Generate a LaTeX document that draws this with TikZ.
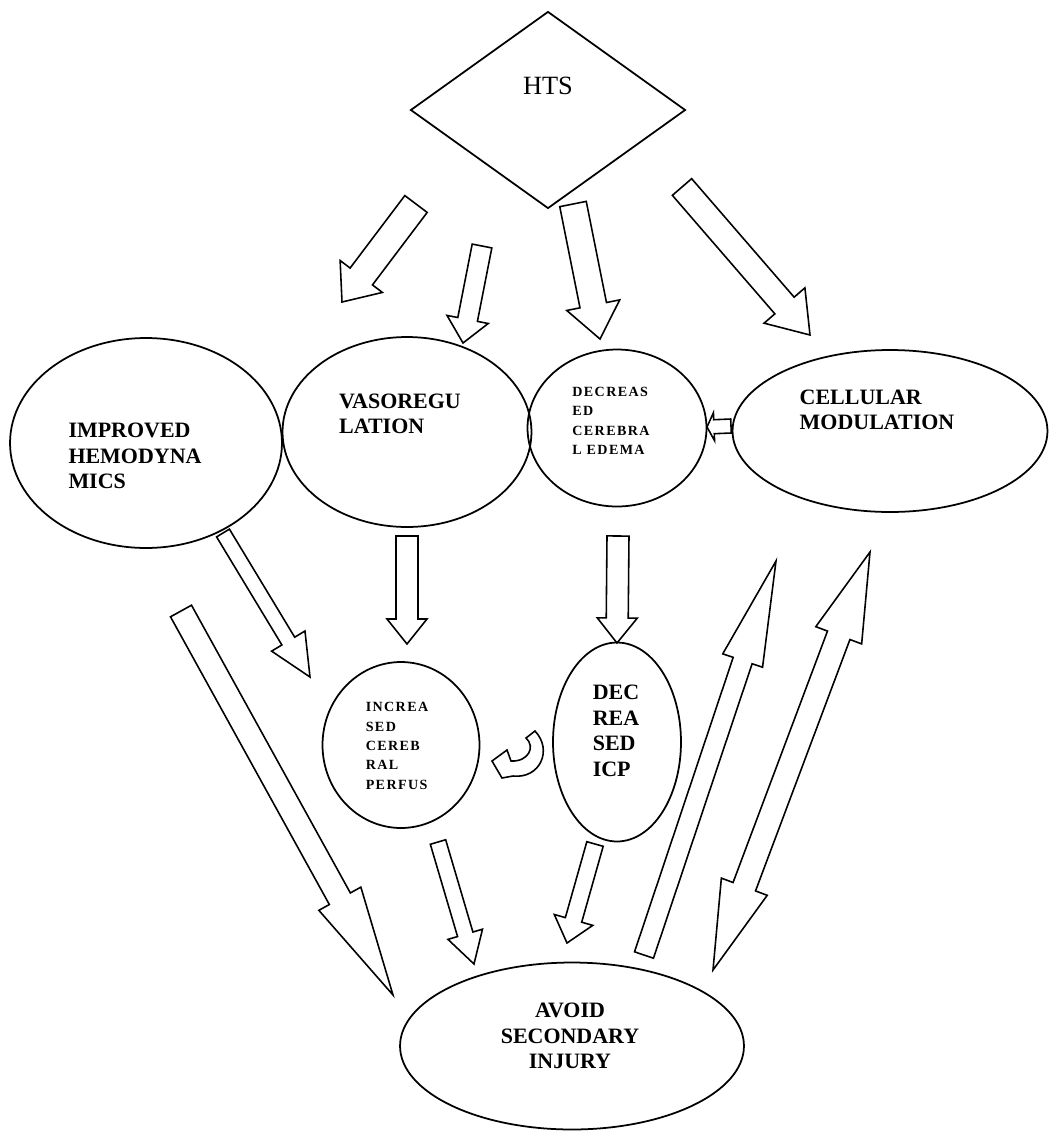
\documentclass[tikz,border=0pt]{standalone}
\usepackage{fontspec}
\setmainfont{Liberation Serif}
\newfontfamily\widefont[LetterSpace=10]{Liberation Serif}
\usetikzlibrary{calc, shapes.geometric}
\tikzset{
  every picture/.style={line width=1pt},
  oval/.style={draw, ellipse, inner sep=0pt},
  lbl/.style={font=\bfseries\fontsize{12.5}{14.5}\selectfont, align=left, inner sep=0pt},
  tinylbl/.style={font=\widefont\bfseries\fontsize{8}{11}\selectfont, align=left, inner sep=0pt},
  fat/.style={draw, line width=0.9pt, line join=miter},
}
% hollow block arrow: tail, tip, half shaft width, half head width, head length
\newcommand{\fatarrow}[5]{%
  \path ($(#2)!#5!(#1)$) coordinate (neck);
  \draw[fat] ($(#1)!#3!90:(#2)$) -- ($(neck)!#3!90:(#2)$) -- ($(neck)!#4!90:(#2)$) -- (#2)
    -- ($(neck)!#4!-90:(#2)$) -- ($(neck)!#3!-90:(#2)$) -- ($(#1)!#3!-90:(#2)$) -- cycle;
}
% same, with a head at both ends
\newcommand{\fatdarrow}[5]{%
  \path ($(#1)!#5!(#2)$) coordinate (neckA) ($(#2)!#5!(#1)$) coordinate (neckB);
  \draw[fat] (#1) -- ($(neckA)!#4!90:(#2)$) -- ($(neckA)!#3!90:(#2)$) -- ($(neckB)!#3!90:(#2)$)
    -- ($(neckB)!#4!90:(#2)$) -- (#2) -- ($(neckB)!#4!-90:(#2)$) -- ($(neckB)!#3!-90:(#2)$)
    -- ($(neckA)!#3!-90:(#2)$) -- ($(neckA)!#4!-90:(#2)$) -- cycle;
}

\begin{document}
\begin{tikzpicture}[x=0.02cm, y=-0.02cm]
  \path[fill=white] (0,0) rectangle (1049,1133);
  % shapes
  \node[draw, diamond, minimum width=5.5cm, minimum height=3.94cm, inner sep=0pt] (hts) at (548,110) {};
  \node[font=\fontsize{15}{17}\selectfont, inner sep=0pt] (htstxt) at (548,86) {HTS};
  \node[oval, minimum width=5.44cm, minimum height=4.2cm] (imp) at (146,443) {};
  \node[oval, minimum width=4.98cm, minimum height=3.8cm] (vaso) at (407,432) {};
  \node[oval, minimum width=3.58cm, minimum height=3.14cm] (edema) at (617,428) {};
  \node[oval, minimum width=6.3cm, minimum height=3.24cm] (cell) at (890,431) {};
  \node[oval, minimum width=3.14cm, minimum height=3.32cm] (perf) at (401,745) {};
  \node[oval, minimum width=2.56cm, minimum height=3.98cm] (icp) at (617,742) {};
  \node[oval, minimum width=6.88cm, minimum height=3.34cm] (avoid) at (572,1046) {};
  % texts
  \node[lbl] (imptxt) at (135,456) {IMPROVED\\HEMODYNA\\MICS};
  \node[lbl] (vasotxt) at (400,414) {VASOREGU\\LATION};
  \node[tinylbl] (edematxt) at (611,421) {DECREAS\\ED\\CEREBRA\\L EDEMA};
  \node[lbl] (celltxt) at (877,410) {CELLULAR\\MODULATION};
  \node[tinylbl] (perftxt) at (397,746) {INCREA\\SED\\CEREB\\RAL\\PERFUS};
  \node[lbl] (icptxt) at (616,731) {DEC\\REA\\SED\\ICP};
  \node[lbl, align=center] (avoidtxt) at (570,1036) {AVOID\\SECONDARY\\INJURY};
  % arrow ends
  \coordinate (hi-s) at (416,204);   \coordinate (hi-e) at (342,302);
  \coordinate (hv-s) at (482,246);   \coordinate (hv-e) at (463,343);
  \coordinate (he-s) at (573,204);   \coordinate (he-e) at (600,339);
  \coordinate (hc-s) at (682,187);   \coordinate (hc-e) at (810,335);
  \coordinate (ce-s) at (731,426);   \coordinate (ce-e) at (707,427);
  \coordinate (vp-s) at (407,536);   \coordinate (vp-e) at (407,644);
  \coordinate (ei-s) at (618,536);   \coordinate (ei-e) at (617,643);
  \coordinate (ip-s) at (223,533);   \coordinate (ip-e) at (310,677);
  \coordinate (ia-s) at (181,611);   \coordinate (ia-e) at (393,995);
  \coordinate (pa-s) at (438,842);   \coordinate (pa-e) at (474,964);
  \coordinate (qa-s) at (595,844);   \coordinate (qa-e) at (567,943);
  \coordinate (ac-s) at (644,955);   \coordinate (ac-e) at (776,561);
  \coordinate (ca-1) at (870,552);   \coordinate (ca-2) at (713,970);
  % block arrows
  \fatarrow{hi-s}{hi-e}{0.28cm}{0.53cm}{0.64cm}
  \fatarrow{hv-s}{hv-e}{0.2cm}{0.42cm}{0.48cm}
  \fatarrow{he-s}{he-e}{0.27cm}{0.54cm}{0.69cm}
  \fatarrow{hc-s}{hc-e}{0.255cm}{0.54cm}{0.78cm}
  \fatarrow{ce-s}{ce-e}{0.14cm}{0.28cm}{0.14cm}
  \fatarrow{vp-s}{vp-e}{0.22cm}{0.4cm}{0.5cm}
  \fatarrow{ei-s}{ei-e}{0.22cm}{0.4cm}{0.5cm}
  \fatarrow{ip-s}{ip-e}{0.15cm}{0.39cm}{0.84cm}
  \fatarrow{ia-s}{ia-e}{0.24cm}{0.48cm}{2.2cm}
  \fatarrow{pa-s}{pa-e}{0.16cm}{0.36cm}{0.62cm}
  \fatarrow{qa-s}{qa-e}{0.17cm}{0.4cm}{0.48cm}
  \fatarrow{ac-s}{ac-e}{0.2cm}{0.42cm}{2.1cm}
  \fatdarrow{ca-1}{ca-2}{0.24cm}{0.49cm}{1.78cm}
  % curled arrow between the two small circles
  \draw[fat] (535,731) -- (526,738) .. controls (536,747) and (528,762) .. (511,761)
    -- (507,750) -- (492,761) -- (502,778) -- (513,776)
    .. controls (540,779) and (553,750) .. (535,731) -- cycle;
\end{tikzpicture}
\end{document}
